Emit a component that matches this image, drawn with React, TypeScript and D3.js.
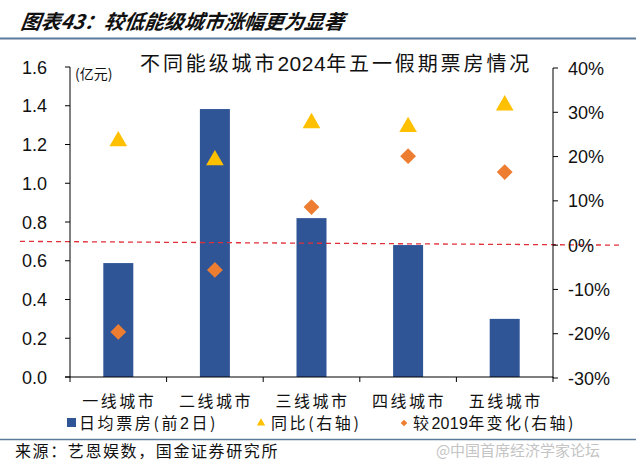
import React from "react";
import * as d3 from "d3";

const categories = ["一线城市", "二线城市", "三线城市", "四线城市", "五线城市"];
const boxOffice = [0.588, 1.383, 0.82, 0.681, 0.30];
const yoy = [23.7, 19.4, 27.8, 26.9, 31.8];
const vs2019 = [-19.6, -5.6, 8.6, 20.1, 16.5];
const leftTicks = [0, 0.2, 0.4, 0.6, 0.8, 1.0, 1.2, 1.4, 1.6];
const rightTicks = [-30, -20, -10, 0, 10, 20, 30, 40];

const W = 640, H = 473;
const plotL = 70, plotR = 553, plotT = 67, plotB = 377;
const font = "'Liberation Sans', Arial, 'Noto Sans CJK SC', sans-serif";
const cjk = "'Noto Sans CJK SC', 'Liberation Sans', sans-serif";

export default function App() {
  const x = d3.scaleBand<string>().domain(categories).range([plotL, plotR]).paddingInner(0).paddingOuter(0);
  const yL = d3.scaleLinear().domain([0, 1.6]).range([plotB, plotT]);
  const yR = d3.scaleLinear().domain([-30, 40]).range([plotB + 1, plotT + 1]);
  const barW = 30;
  const tri = d3.symbol().type(d3.symbolTriangle).size(135)();
  const dia = d3.symbol().type(d3.symbolSquare).size(125)();
  const bw = x.bandwidth();

  return (
    <svg width={W} height={H} style={{ position: "absolute", left: 0, top: 0, background: "#fff" }}>
      <rect width={W} height={H} fill="#fff" />
      <text x={20} y={29} fontFamily={cjk} fontSize={20} fontWeight="bold" fontStyle="italic" fill="#111"
        transform="skewX(-8) translate(4,0)">图表43：较低能级城市涨幅更为显著</text>
      <line x1={0} x2={636} y1={38.5} y2={38.5} stroke="#5b7b9b" strokeWidth={2} />
      <text x={140} y={71} fontFamily={cjk} fontSize={20} letterSpacing={2.9} fill="#111">不同能级城市<tspan fontFamily={font} fontSize={21} letterSpacing={0.5}>2024</tspan>年五一假期票房情况</text>
      <text x={75} y={79} fontFamily={cjk} fontSize={14} fill="#111">(亿元)</text>

      {/* bars */}
      {categories.map((c, i) => (
        <rect key={c} x={(x(c) as number) + bw / 2 - barW / 2} y={yL(boxOffice[i])} width={barW}
          height={plotB - yL(boxOffice[i])} fill="#2f5597" />
      ))}

      {/* dashed line */}
      <line x1={20} x2={622} y1={yL(0.7)} y2={yR(0)} stroke="#e0303a" strokeWidth={1.3} strokeDasharray="5,4" />

      {/* left axis */}
      <line x1={plotL} x2={plotL} y1={plotT} y2={plotB} stroke="#000" />
      {leftTicks.map(t => (
        <g key={t}>
          <line x1={plotL - 5} x2={plotL} y1={yL(t)} y2={yL(t)} stroke="#000" />
          <text x={plotL - 23} y={yL(t) + 6.5} textAnchor="end" fontFamily={font} fontSize={18} fill="#111">{t.toFixed(1)}</text>
        </g>
      ))}
      {/* right axis */}
      <line x1={plotR} x2={plotR} y1={plotT + 1} y2={plotB + 1} stroke="#000" />
      {rightTicks.map(t => (
        <g key={t}>
          <line x1={plotR} x2={plotR + 5} y1={yR(t)} y2={yR(t)} stroke="#000" />
          <text x={568} y={yR(t) + 6.5} fontFamily={font} fontSize={18} fill="#111">{t}%</text>
        </g>
      ))}
      {/* x axis */}
      <line x1={plotL - 5} x2={plotR} y1={plotB} y2={plotB} stroke="#000" />
      {categories.map((c, i) => (
        <line key={c} x1={(x(c) as number) + bw} x2={(x(c) as number) + bw} y1={plotB} y2={plotB + 5} stroke="#000" />
      ))}
      <line x1={plotL} x2={plotL} y1={plotB} y2={plotB + 5} stroke="#000" />
      {categories.map(c => (
        <text key={c} x={(x(c) as number) + bw / 2 + 1} y={407} textAnchor="middle" fontFamily={cjk} fontSize={16} letterSpacing={2.5} fill="#111">{c}</text>
      ))}

      {/* markers */}
      {categories.map((c, i) => (
        <path key={"t" + c} d={tri as string} fill="#ffc000"
          transform={`translate(${(x(c) as number) + bw / 2},${yR(yoy[i]) + 1})`} />
      ))}
      {categories.map((c, i) => (
        <path key={"d" + c} d={dia as string} fill="#ed7d31"
          transform={`translate(${(x(c) as number) + bw / 2},${yR(vs2019[i])}) rotate(45)`} />
      ))}

      {/* legend */}
      <rect x={67} y={418} width={9} height={9} fill="#2f5597" />
      <text x={79} y={429} fontFamily={cjk} fontSize={16} letterSpacing={2.6} fill="#111">日均票房(前<tspan fontFamily={font}>2</tspan>日)</text>
      <path d={d3.symbol().type(d3.symbolTriangle).size(30)() as string} fill="#ffc000" transform="translate(261,423)" />
      <text x={271} y={429} fontFamily={cjk} fontSize={16} letterSpacing={2.6} fill="#111">同比(右轴)</text>
      <path d={d3.symbol().type(d3.symbolSquare).size(22)() as string} fill="#ed7d31" transform="translate(404,423) rotate(45)" />
      <text x={413} y={429} fontFamily={cjk} fontSize={16} letterSpacing={2.4} fill="#111">较<tspan fontFamily={font} letterSpacing={0.3}>2019</tspan>年变化(右轴)</text>

      <line x1={0} x2={636} y1={439.5} y2={439.5} stroke="#5b7b9b" strokeWidth={1.5} />
      <text x={15} y={457} fontFamily={cjk} fontSize={16} letterSpacing={1.6} fill="#111">来源：艺恩娱数，国金证券研究所</text>
      <text x={518} y={456} textAnchor="middle" fontFamily={cjk} fontSize={15} fill="#c4c4c4">@中国首席经济学家论坛</text>
    </svg>
  );
}
